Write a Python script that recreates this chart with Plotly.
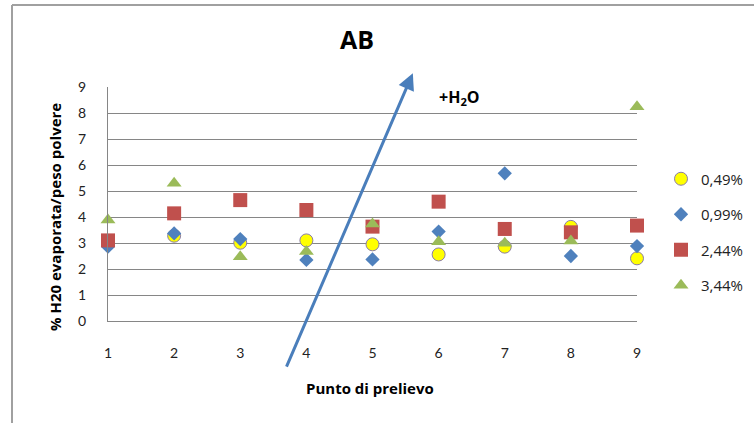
import plotly.graph_objects as go

# Sampling points along the line and the measured water loss per additive level
punti = [1, 2, 3, 4, 5, 6, 7, 8, 9]
serie_nomi = ["0,49%", "0,99%", "2,44%", "3,44%"]
val_049 = [3.00, 3.28, 3.01, 3.10, 2.95, 2.56, 2.86, 3.62, 2.41]
val_099 = [2.86, 3.37, 3.15, 2.35, 2.37, 3.44, 5.68, 2.50, 2.88]
val_244 = [3.10, 4.14, 4.65, 4.27, 3.63, 4.59, 3.54, 3.41, 3.67]
val_344 = [3.88, 5.30, 2.47, 2.67, 3.73, 3.05, 2.99, 3.08, 8.24]
y_ticks = [0, 1, 2, 3, 4, 5, 6, 7, 8, 9]
x_range = [1, 9]
y_range = [0, 9]

# Trend arrow (start and tip, in data units) and its label
freccia_da = (3.69, -1.81)
freccia_a = (5.61, 9.53)
etichetta_h2o = (6.31, 8.58)

W, H = 754, 423
M_L, M_R, M_T, M_B = 108, 117, 87, 102
PW, PH = W - M_L - M_R, H - M_T - M_B
FONT = "Lato, 'Liberation Sans', sans-serif"
FONT_T = "'Open Sans', 'Liberation Sans', sans-serif"
GRID = "#868686"


def px_x(p):
    return (p - M_L) / PW


def px_y(p):
    return (H - M_B - p) / PH


def data_to_paper(x, y):
    return ((x - x_range[0]) / (x_range[1] - x_range[0]),
            (y - y_range[0]) / (y_range[1] - y_range[0]))


stili = [
    dict(symbol="circle", size=13, color="#ffff00", line=dict(color="#8a7ca8", width=1)),
    dict(symbol="diamond", size=11, color="#4f81bd", line=dict(width=0)),
    dict(symbol="square", size=14, color="#c0504d", line=dict(width=0)),
    dict(symbol="triangle-up", size=13, color="#9bbb59", line=dict(width=0)),
]

fig = go.Figure()
for nome, valori, stile in zip(serie_nomi, [val_049, val_099, val_244, val_344], stili):
    fig.add_trace(go.Scatter(
        x=punti, y=valori, name=nome, mode="markers",
        marker=stile, cliponaxis=False, legendgroup=nome,
    ))

# Arrow: tip placed in paper units (it sits above the y range), tail as a pixel offset
tip_px, tip_py = data_to_paper(*freccia_a)
tail_px, tail_py = data_to_paper(*freccia_da)
fig.add_annotation(
    x=tip_px, y=tip_py, xref="paper", yref="paper",
    ax=(tail_px - tip_px) * PW, ay=-(tail_py - tip_py) * PH,
    axref="pixel", ayref="pixel",
    text="", showarrow=True, arrowhead=2, arrowsize=1.1, arrowwidth=3,
    arrowcolor="#4a7ebb",
)
fig.add_annotation(
    x=etichetta_h2o[0], y=etichetta_h2o[1], xref="x", yref="y",
    xanchor="center", yanchor="middle",
    text="<b>+H<sub>2</sub>O</b>", showarrow=False,
    font=dict(family=FONT_T, size=16, color="#000000"),
)

# Titles
titoli = [
    ("<b>AB</b>", 357, 39, 0, 25),
    ("<b>Punto di prelievo</b>", 370, 388, 0, 15),
    ("<b>% H20 evaporata/peso polvere</b>", 55, 217, -90, 15),
]
for testo, tx, ty, angolo, dim in titoli:
    fig.add_annotation(
        x=px_x(tx), y=px_y(ty), xref="paper", yref="paper",
        xanchor="center", yanchor="middle", text=testo, textangle=angolo,
        showarrow=False, font=dict(family=FONT_T, size=dim, color="#000000"),
    )

# Chart frame (left and top edges)
fig.add_shape(type="line", xref="paper", yref="paper",
              x0=px_x(12), x1=px_x(12), y0=px_y(5), y1=px_y(H + 2),
              line=dict(color="#a0a0a0", width=2))
fig.add_shape(type="line", xref="paper", yref="paper",
              x0=px_x(12), x1=px_x(W + 2), y0=px_y(5), y1=px_y(5),
              line=dict(color="#a0a0a0", width=2))

fig.update_layout(
    width=W, height=H,
    margin=dict(l=M_L, r=M_R, t=M_T, b=M_B, autoexpand=False),
    paper_bgcolor="white", plot_bgcolor="white",
    font=dict(family=FONT, size=14, color="#222222"),
    showlegend=True,
    legend=dict(
        xref="container", yref="container",
        x=661 / W, y=(H - 232) / H, xanchor="left", yanchor="middle",
        font=dict(family=FONT_T, size=15, color="#222222"),
        tracegroupgap=13, bgcolor="rgba(0,0,0,0)",
    ),
    xaxis=dict(
        range=x_range, tickvals=punti, ticktext=[str(p) for p in punti],
        showgrid=False, zeroline=False, showline=True, linecolor=GRID, linewidth=1,
        ticks="", ticklabelstandoff=19, tickfont=dict(size=14),
    ),
    yaxis=dict(
        range=y_range, tickvals=y_ticks, showgrid=True, gridcolor=GRID, gridwidth=1,
        zeroline=False, showline=True, linecolor=GRID, linewidth=1,
        ticks="", ticklabelstandoff=18, tickfont=dict(size=14),
    ),
)

fig.write_html("out.html")
